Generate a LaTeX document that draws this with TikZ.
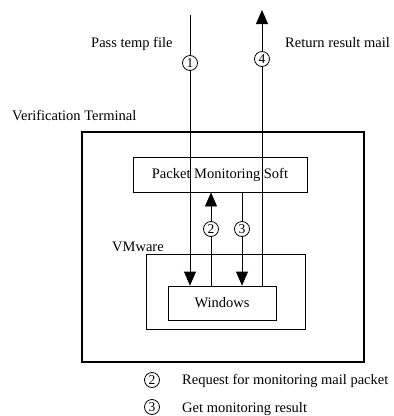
\documentclass[tikz,border=0pt]{standalone}
\usepackage{fontspec}
\setmainfont{Liberation Serif}
\usetikzlibrary{arrows.meta}
\begin{document}
\begin{tikzpicture}[x=1pt,y=-1pt,
  box/.style={draw, line width=0.8pt, inner sep=0, font=\fontsize{14.5}{16}\selectfont},
  lbl/.style={font=\fontsize{14.5}{16}\selectfont, inner sep=0, anchor=base west},
  num/.style={circle, draw, fill=white, line width=0.8pt, minimum size=15pt, inner sep=0, font=\fontsize{13.5}{13.5}\selectfont},
  flow/.style={line width=0.8pt},
  tip/.style={-{Triangle[length=14pt,width=12pt]}}]
\useasboundingbox (0,0) rectangle (394,416);
% boxes
\node[box, line width=1.6pt, minimum width=282pt, minimum height=230pt] (term) at (223,247) {};
\node[box, minimum width=174pt, minimum height=35pt] (pms) at (220,174.5) {Packet Monitoring Soft};
\node[box, minimum width=159pt, minimum height=75pt] (vm) at (225.5,291.5) {};
\node[box, minimum width=108pt, minimum height=34pt] (win) at (222,303) {Windows};
% free ends
\coordinate (t1) at (190,15);
\coordinate (t4) at (262,10);
% connectors
\draw[flow,tip] (t1) -- (t1 |- win.north);
\draw[flow,tip] (win.north -| t4) -- (t4);
\coordinate (a2) at (211,229);
\coordinate (a3) at (242,229);
\draw[flow,tip] (a2 |- win.north) -- (a2 |- pms.south);
\draw[flow,tip] (a3 |- pms.south) -- (a3 |- win.north);
% numbered circles
\node[num] (c1) at (190,63) {1};
\node[num] (c4) at (262,59) {4};
\node[num] (c2) at (a2) {2};
\node[num] (c3) at (a3) {3};
% labels
\node[lbl] (l1) at (91,47.5) {Pass temp file};
\node[lbl] (l4) at (285,47.5) {Return result mail};
\node[lbl] (lt) at (12,120) {Verification Terminal};
\node[lbl] (lv) at (112,251.5) {VMware};
% legend
\node[num, fill=none] (g2) at (152,380) {2};
\node[num, fill=none] (g3) at (152,407) {3};
\node[lbl] (lg2) at (182,384) {Request for monitoring mail packet};
\node[lbl] (lg3) at (182,412) {Get monitoring result};
\end{tikzpicture}
\end{document}
